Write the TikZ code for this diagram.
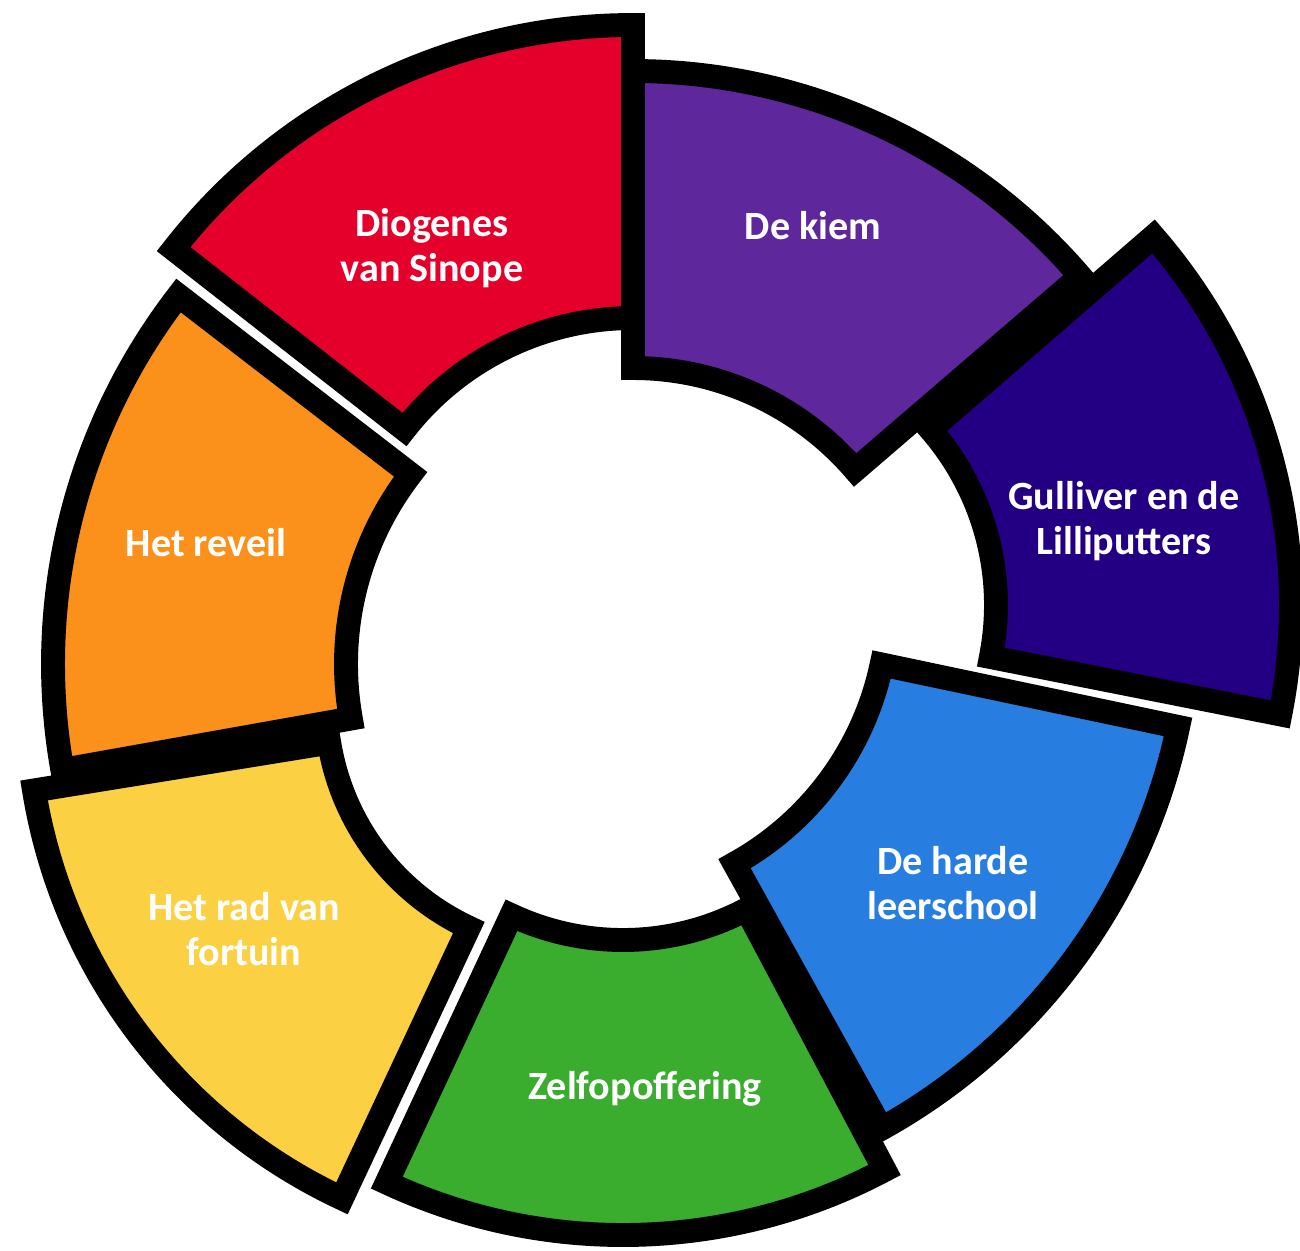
\documentclass[tikz,border=0pt]{standalone}
\usepackage{fontspec}
\setmainfont{Carlito}

\definecolor{segred}{HTML}{E5002C}
\definecolor{segorange}{HTML}{FB911B}
\definecolor{segyellow}{HTML}{FCD043}
\definecolor{seggreen}{HTML}{3AAC2E}
\definecolor{segblue}{HTML}{277EE0}
\definecolor{segnavy}{HTML}{230083}
\definecolor{segpurple}{HTML}{5E289C}

\tikzset{
  segment/.style={draw=black, line width=6.8pt, line join=miter},
  seglabel/.style={text=white, align=center, inner sep=0pt,
                   font=\bfseries\fontsize{11.4}{12.8}\selectfont}
}

\begin{document}
\begin{tikzpicture}[x=0.01cm, y=0.01cm]
\useasboundingbox (0,0) rectangle (1300,-1250);
% apex x / apex y / start / end / inner r / outer r / fill
\foreach \cx/\cy/\sa/\ea/\ri/\ro/\col in {
  633/608/90/142/290/583/segred,
  657/664/142.4/190.1/311/604/segorange,
  574/703/189.2/244.9/248/547/segyellow,
  623/676/245/297.9/264/559/seggreen,
  590/603/299/348.1/298/601/segblue,
  633/661/40.7/90/293/590/segpurple,
  728/605/348.8/400.9/268/563/segnavy}
{
  \draw[segment, fill=\col, shift={(\cx,-\cy)}]
    (\sa:\ro) arc[start angle=\sa, end angle=\ea, radius=\ro]
    -- (\ea:\ri) arc[start angle=\ea, end angle=\sa, radius=\ri] -- cycle;
}
\node[seglabel] (diogenes) at (432,-248) {Diogenes\\van Sinope};
\node[seglabel] (kiem)     at (813,-226) {De kiem};
\node[seglabel] (gulliver) at (1124,-521) {Gulliver en de\\Lilliputters};
\node[seglabel] (harde)    at (953,-883) {De harde\\leerschool};
\node[seglabel] (zelf)     at (645,-1089) {Zelfopoffering};
\node[seglabel] (rad)      at (244,-929) {Het rad van\\fortuin};
\node[seglabel] (reveil)   at (206,-543) {Het reveil};
\end{tikzpicture}
\end{document}
